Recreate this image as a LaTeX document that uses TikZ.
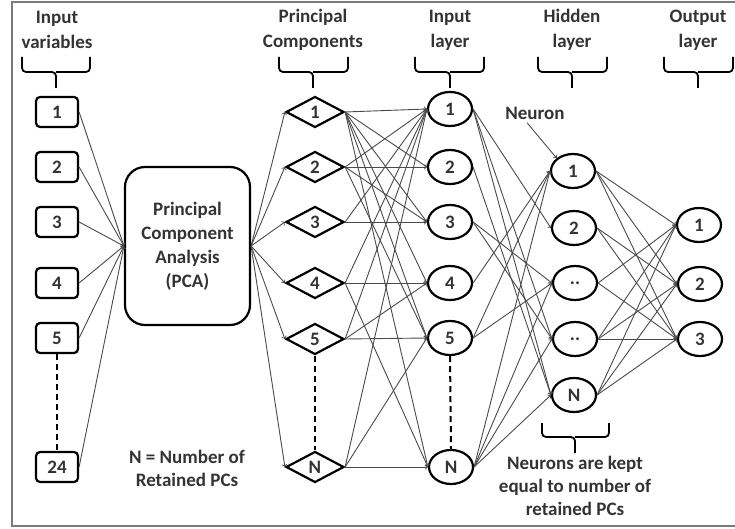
\documentclass[tikz,border=0pt]{standalone}
\usepackage{fontspec}
\setmainfont{Carlito}
\usetikzlibrary{shapes.geometric}
\definecolor{textgray}{HTML}{333333}
\definecolor{linkgray}{HTML}{4A4A4A}
\definecolor{framegray}{HTML}{7A7A7A}

\begin{document}
\begin{tikzpicture}[
        x=1pt,
        y=-1pt,
        every node/.style={
            font=\fontsize{19}{23}\selectfont\bfseries,
            text=textgray
        },
        heading/.style={
            align=center,
            font=\fontsize{19}{25}\selectfont\bfseries
        },
        varbox/.style={
            rectangle,
            draw,
            line width=2.2pt,
            rounded corners=4pt,
            minimum width=42pt,
            minimum height=30pt,
            inner sep=0pt
        },
        pcabox/.style={
            rectangle,
            draw,
            line width=2.2pt,
            rounded corners=20pt,
            align=center,
            minimum width=125pt,
            minimum height=158pt,
            font=\fontsize{19}{24}\selectfont\bfseries
        },
        pcnode/.style={
            diamond,
            draw,
            line width=2.2pt,
            aspect=2,
            minimum width=58pt,
            minimum height=31pt,
            inner sep=0pt
        },
        neuron/.style={
            ellipse,
            draw,
            line width=2.2pt,
            minimum width=44pt,
            minimum height=34pt,
            inner sep=0pt
        },
        link/.style={->, line width=0.9pt, draw=linkgray},
        gapline/.style={dashed, dash pattern=on 6pt off 4pt, line width=2pt},
        bracket/.style={draw, line width=1.8pt, rounded corners=4pt},
        frame/.style={draw=framegray, line width=1.5pt}
    ]

        \useasboundingbox (0,0) rectangle (735,529);
        \draw[frame] (737,2) -| (12,526) -- (737,526);

        \node[heading] (tvar) at (57,30) {Input\\variables};
        \node[heading] (tpc) at (313,30) {Principal\\Components};
        \node[heading] (tin) at (450,30) {Input\\layer};
        \node[heading] (thid) at (572,30) {Hidden\\layer};
        \node[heading] (tout) at (698,30) {Output\\layer};

        \draw[bracket] (22,57) |- (56,72) -- (56,88);
        \draw[bracket] (90,57) |- (56,72);
        \draw[bracket] (279,57) |- (313,72) -- (313,88);
        \draw[bracket] (348,57) |- (313,72);
        \draw[bracket] (415,57) |- (450,72) -- (450,88);
        \draw[bracket] (484,57) |- (450,72);
        \draw[bracket] (538,57) |- (572,72) -- (572,88);
        \draw[bracket] (607,57) |- (572,72);
        \draw[bracket] (664,57) |- (698,72) -- (698,88);
        \draw[bracket] (733,57) |- (698,72);
        \draw[bracket] (542,423) |- (575,437) -- (575,453);
        \draw[bracket] (609,423) |- (575,437);

        \node[varbox] (v1) at (57,112) {1};
        \node[varbox] (v2) at (57,167) {2};
        \node[varbox] (v3) at (57,222) {3};
        \node[varbox] (v4) at (57,283) {4};
        \node[varbox] (v5) at (57,338) {5};
        \node[varbox] (v24) at (57,467) {24};

        \node[pcabox] (pca) at (187.5,246) {Principal\\Component\\Analysis\\(PCA)};

        \node[pcnode] (pc1) at (315,112) {1};
        \node[pcnode] (pc2) at (315,167) {2};
        \node[pcnode] (pc3) at (315,222) {3};
        \node[pcnode] (pc4) at (315,283) {4};
        \node[pcnode] (pc5) at (315,339) {5};
        \node[pcnode] (pcN) at (315,467) {N};

        \node[neuron] (in1) at (450,109) {1};
        \node[neuron] (in2) at (450,167) {2};
        \node[neuron] (in3) at (450,222) {3};
        \node[neuron] (in4) at (450,283) {4};
        \node[neuron] (in5) at (450,338) {5};
        \node[neuron] (inN) at (451,467) {N};

        \node[neuron] (h1) at (573,171) {1};
        \node[neuron] (h2) at (574,228) {2};
        \node[neuron] (h3) at (575,283) {..};
        \node[neuron] (h4) at (575,339) {..};
        \node[neuron] (hN) at (574,395) {N};

        \node[neuron] (o1) at (699,225) {1};
        \node[neuron] (o2) at (700,284) {2};
        \node[neuron] (o3) at (700,339) {3};

        \node (neuronlbl) at (535,113) {Neuron};
        \node[align=center] (nnote) at (187,468) {N = Number of\\Retained PCs};
        \node[align=center] (keepnote) at (575,486) {Neurons are kept\\equal to number of\\retained PCs};

        \draw[gapline] (v5.south) -- (v24.north);
        \draw[gapline] (pc5.south) -- (pcN.north);
        \draw[gapline] (in5.south) -- (inN.north);

        \draw[link] ([xshift=-8pt]neuronlbl.south) -- (h1.north west);

        \draw[link] (v1.east) -- (pca.west);
        \draw[link] (v2.east) -- (pca.west);
        \draw[link] (v3.east) -- (pca.west);
        \draw[link] (v4.east) -- (pca.west);
        \draw[link] (v5.east) -- (pca.west);
        \draw[link] (v24.east) -- (pca.west);

        \draw[link] (pca.east) -- (pc1.west);
        \draw[link] (pca.east) -- (pc2.west);
        \draw[link] (pca.east) -- (pc3.west);
        \draw[link] (pca.east) -- (pc4.west);
        \draw[link] (pca.east) -- (pc5.west);
        \draw[link] (pca.east) -- (pcN.west);

        \draw[link] (pc1.east) -- (in1.west);
        \draw[link] (pc1.east) -- (in2.west);
        \draw[link] (pc1.east) -- (in3.west);
        \draw[link] (pc1.east) -- (in4.west);
        \draw[link] (pc1.east) -- (in5.west);
        \draw[link] (pc1.east) -- (inN.west);
        \draw[link] (pc2.east) -- (in1.west);
        \draw[link] (pc2.east) -- (in2.west);
        \draw[link] (pc2.east) -- (in3.west);
        \draw[link] (pc2.east) -- (in5.west);
        \draw[link] (pc3.east) -- (in1.west);
        \draw[link] (pc3.east) -- (in3.west);
        \draw[link] (pc4.east) -- (in1.west);
        \draw[link] (pc4.east) -- (in4.west);
        \draw[link] (pc4.east) -- (inN.west);
        \draw[link] (pc5.east) -- (in1.west);
        \draw[link] (pc5.east) -- (in4.west);
        \draw[link] (pc5.east) -- (in5.west);
        \draw[link] (pcN.east) -- (in1.west);
        \draw[link] (pcN.east) -- (in5.west);
        \draw[link] (pcN.east) -- (inN.west);

        \draw[link] (in1.east) -- (h2.west);
        \draw[link] (in1.east) -- (h4.west);
        \draw[link] (in1.east) -- (hN.west);
        \draw[link] (in2.east) -- (hN.west);
        \draw[link] (in3.east) -- (h3.west);
        \draw[link] (in3.east) -- (h4.west);
        \draw[link] (in4.east) -- (h1.west);
        \draw[link] (in5.east) -- (h1.west);
        \draw[link] (in5.east) -- (h3.west);
        \draw[link] (inN.east) -- (h1.west);
        \draw[link] (inN.east) -- (h3.west);
        \draw[link] (inN.east) -- (h4.west);
        \draw[link] (inN.east) -- (hN.west);

        \draw[link] (h1.east) -- (o1.west);
        \draw[link] (h1.east) -- (o2.west);
        \draw[link] (h1.east) -- (o3.west);
        \draw[link] (h2.east) -- (o2.west);
        \draw[link] (h2.east) -- (o3.west);
        \draw[link] (h3.east) -- (o1.west);
        \draw[link] (h3.east) -- (o3.west);
        \draw[link] (h4.east) -- (o1.west);
        \draw[link] (h4.east) -- (o2.west);
        \draw[link] (h4.east) -- (o3.west);
        \draw[link] (hN.east) -- (o1.west);
        \draw[link] (hN.east) -- (o2.west);
        \draw[link] (hN.east) -- (o3.west);

    \end{tikzpicture}
\end{document}
